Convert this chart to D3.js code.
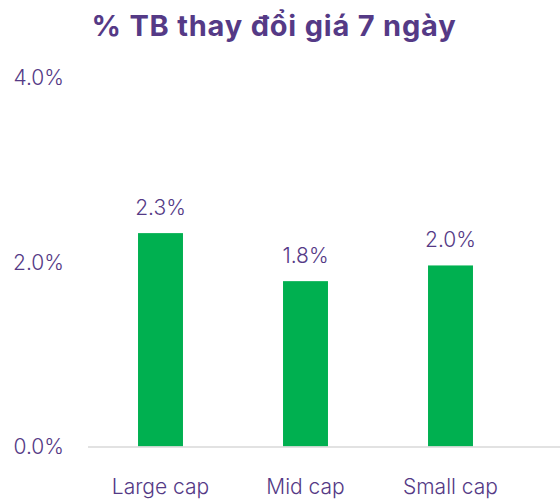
<!DOCTYPE html>
<html>
<head>
<meta charset="utf-8">
<script src="https://cdn.jsdelivr.net/npm/d3@7"></script>
<style>
  body { margin: 0; background: #fff; }
  text { font-family: Inter, "Noto Sans", sans-serif; }
</style>
</head>
<body>
<div id="chart"></div>
<script>
// data
const categories = ["Large cap", "Mid cap", "Small cap"];
const values = [2.31, 1.79, 1.96];
const yTicks = [0, 2, 4];
const title = "% TB thay đổi giá 7 ngày";

const purple = "#553a86";
const green = "#00b050";

let svg = d3.select("#chart")
              .append("svg")
                .attr("width", 560)
                .attr("height", 500)
;

let x = d3.scaleBand().domain(categories).range([88, 523]).paddingInner(0.69).paddingOuter(0.345);
let y = d3.scaleLinear().domain([0, 4]).range([446.5, 77]);

// title
svg.append("text")
    .text(title)
    .attr("x", 274)
    .attr("y", 36)
    .attr("text-anchor", "middle")
    .attr("font-size", 29)
    .attr("font-weight", "bold")
    .attr("letter-spacing", 0.8)
    .attr("fill", purple)
;

// y axis labels only
let yAxis = d3.axisLeft(y).tickValues(yTicks).tickFormat(d => d.toFixed(1) + "%").tickSize(0).tickPadding(0);
let yg = svg.append("g").attr("transform", "translate(64,0)").call(yAxis);
yg.select(".domain").remove();
yg.selectAll("text").attr("font-size", 21).attr("fill", purple).attr("dy", "0.35em").attr("font-weight", 300);

// bars
svg.selectAll(".bar").data(values).enter().append("rect")
    .attr("class", "bar")
    .attr("x", (d, i) => x(categories[i]))
    .attr("width", x.bandwidth())
    .attr("y", d => y(d))
    .attr("height", d => y(0) - y(d))
    .attr("fill", green)
;

// baseline
svg.append("line")
    .attr("x1", 88).attr("x2", 560)
    .attr("y1", y(0) + 0.5).attr("y2", y(0) + 0.5)
    .attr("stroke", "#d9d9d9")
    .attr("stroke-width", 1.5)
;

// value labels
svg.selectAll(".lbl").data(values).enter().append("text")
    .attr("class", "lbl")
    .text(d => d.toFixed(1) + "%")
    .attr("x", (d, i) => x(categories[i]) + x.bandwidth() / 2)
    .attr("y", d => y(d) - 18)
    .attr("text-anchor", "middle")
    .attr("font-size", 21)
    .attr("font-weight", 300)
    .attr("fill", purple)
;

// x axis labels
let xAxis = d3.axisBottom(x).tickSize(0).tickPadding(0);
let xg = svg.append("g").attr("transform", "translate(0,479)").call(xAxis);
xg.select(".domain").remove();
xg.selectAll("text").attr("font-size", 21).attr("fill", purple).attr("dy", "0.71em").attr("font-weight", 300);
</script>
</body>
</html>
